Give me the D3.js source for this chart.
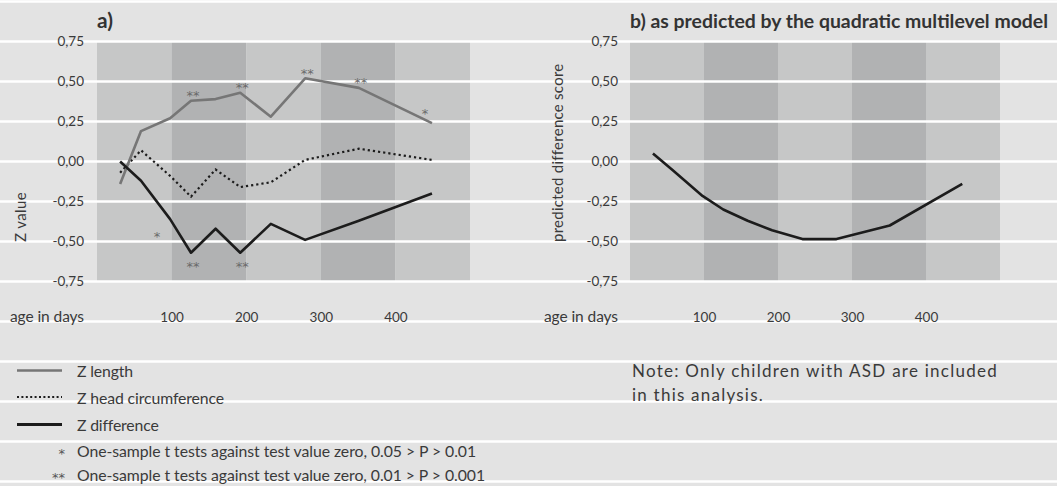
<!DOCTYPE html>
<html>
<head>
<meta charset="utf-8">
<script src="https://cdn.jsdelivr.net/npm/d3@7"></script>
<style>
  body { margin: 0; background: #e3e3e3; }
  svg { display: block; font-family: Lato, "Open Sans", sans-serif; }
</style>
</head>
<body>
<svg id="chart" width="1057" height="486"></svg>
<script>
// ages (days) at which the measurements were taken
const ages = [31, 59, 98, 126, 159, 192, 233, 279, 351, 449];

// panel a) series
const zLength = [-0.14, 0.19, 0.27, 0.38, 0.39, 0.43, 0.28, 0.52, 0.46, 0.24];
const zHead   = [-0.07, 0.07, -0.09, -0.22, -0.05, -0.16, -0.13, 0.01, 0.08, 0.01];
const zDiff   = [0.00, -0.12, -0.36, -0.57, -0.42, -0.57, -0.39, -0.49, -0.37, -0.20];

// significance markers
const lengthSig = ["", "", "", "**", "", "**", "", "**", "**", "*"];
const diffSig   = ["", "", "*", "**", "", "**", "", "", "", ""];

// panel b) predicted difference score
const predicted = [0.05, -0.06, -0.215, -0.30, -0.37, -0.43, -0.485, -0.485, -0.40, -0.14];

const yTicks = [-0.75, -0.5, -0.25, 0, 0.25, 0.5, 0.75];
const xTicks = [100, 200, 300, 400];
const bandEdges = [0, 100, 200, 300, 400, 500];

const legendLabels = ["Z length", "Z head circumference", "Z difference"];
const sigLabels = [
  ["*", "One-sample t tests against test value zero, 0.05 > P > 0.01"],
  ["**", "One-sample t tests against test value zero, 0.01 > P > 0.001"]
];
const noteLines = ["Note: Only children with ASD are included", "in this analysis."];

const W = 1057, H = 486;
const textColor = "#3a3a3a";
const grayLine = "#767676";
const darkLine = "#1c1c1c";
const starFont = "'DejaVu Sans', sans-serif";

const svg = d3.select("#chart");

const comma = d3.formatLocale({decimal: ",", thousands: ".", grouping: [3], currency: ["", ""], minus: "-"}).format(".2f");

const y = d3.scaleLinear().domain([-0.75, 0.75]).range([281.5, 41.5]);
const xL = d3.scaleLinear().domain([0, 500]).range([97, 470]);
const xR = d3.scaleLinear().domain([0, 500]).range([630, 1000]);

// scale a text to the width it has in the picture
function fit(sel, w) {
  const len = sel.node().getComputedTextLength();
  const fs = parseFloat(sel.attr("font-size"));
  sel.attr("font-size", (fs * w / len).toFixed(2));
  return sel;
}

// keep the size, spread the letters to the width instead
function spread(sel, w) {
  const len = sel.node().getComputedTextLength();
  const n = sel.text().length;
  sel.attr("letter-spacing", ((w - len) / n).toFixed(3));
  return sel;
}

svg.append("rect").attr("width", W).attr("height", H).attr("fill", "#e3e3e3");

// vertical bands in both panels
[xL, xR].forEach(x => {
  svg.append("g").selectAll("rect")
    .data(d3.pairs(bandEdges))
    .join("rect")
    .attr("x", d => x(d[0]))
    .attr("width", d => x(d[1]) - x(d[0]))
    .attr("y", y(0.75))
    .attr("height", y(-0.75) - y(0.75))
    .attr("fill", (d, i) => i % 2 ? "#b1b2b3" : "#c6c7c7");
});

// white rules over the whole page, aligned to the y grid
const step = y(0.5) - y(0.75);
svg.append("g").selectAll("line")
  .data(d3.range(-1, 12).map(k => y(0.75) + k * step))
  .join("line")
  .attr("x1", 0).attr("x2", W)
  .attr("y1", d => d).attr("y2", d => d)
  .attr("stroke", "#fff")
  .attr("stroke-width", 2.5);

function axes(x, yAxisX, label, labelW, labelX) {
  const ya = svg.append("g")
    .attr("transform", `translate(${yAxisX},0)`)
    .call(d3.axisLeft(y).tickValues(yTicks).tickSize(0).tickPadding(0).tickFormat(comma));
  ya.select(".domain").remove();
  ya.selectAll("text")
    .attr("dy", 4).attr("fill", textColor)
    .attr("font-size", 13.5).attr("font-family", "Lato, sans-serif");

  const xa = svg.append("g")
    .attr("transform", "translate(0,322)")
    .call(d3.axisBottom(x).tickValues(xTicks).tickSize(0).tickFormat(d3.format("d")));
  xa.select(".domain").remove();
  xa.selectAll("text")
    .attr("y", 0).attr("dy", null).attr("fill", textColor)
    .attr("font-size", 13.5).attr("font-family", "Lato, sans-serif");

  spread(svg.append("text")
    .attr("x", yAxisX).attr("y", 322)
    .attr("text-anchor", "end")
    .attr("font-size", 15.5).attr("fill", textColor)
    .text("age in days"), 74);

  spread(svg.append("text")
    .attr("transform", `translate(${labelX},242) rotate(-90)`)
    .attr("font-size", 15).attr("fill", textColor)
    .text(label), labelW);
}

axes(xL, 84, "Z value", 50, 26);
axes(xR, 618, "predicted difference score", 178, 563);

// titles
fit(svg.append("text").attr("x", 97).attr("y", 28)
  .attr("font-size", 16).attr("font-weight", "bold").attr("fill", "#333")
  .text("a)"), 16);
fit(svg.append("text").attr("x", 630).attr("y", 28)
  .attr("font-size", 16).attr("font-weight", "bold").attr("fill", "#333")
  .text("b) as predicted by the quadratic multilevel model"), 418);

// lines
const lineL = d3.line().x((d, i) => xL(ages[i])).y(d => y(d));
const lineR = d3.line().x((d, i) => xR(ages[i])).y(d => y(d));

svg.append("path").datum(zHead)
  .attr("fill", "none").attr("stroke", darkLine)
  .attr("stroke-width", 2.2).attr("stroke-dasharray", "2.2,3")
  .attr("d", lineL);
svg.append("path").datum(zLength)
  .attr("fill", "none").attr("stroke", grayLine)
  .attr("stroke-width", 2.6).attr("stroke-linejoin", "round")
  .attr("d", lineL);
svg.append("path").datum(zDiff)
  .attr("fill", "none").attr("stroke", darkLine)
  .attr("stroke-width", 2.6).attr("stroke-linejoin", "round")
  .attr("d", lineL);

svg.append("path").datum(predicted)
  .attr("fill", "none").attr("stroke", darkLine)
  .attr("stroke-width", 2.6).attr("stroke-linejoin", "round")
  .attr("d", lineR);

// significance stars
const starFs = 13;
const last = ages.length - 1;
svg.append("g").selectAll("text")
  .data(lengthSig.map((s, i) => ({s, i})).filter(d => d.s))
  .join("text")
  .attr("x", d => xL(ages[d.i]) + (d.i === last ? -7 : 2))
  .attr("y", d => y(zLength[d.i]) - (d.i === last ? 12 : 8) + starFs * 0.56)
  .attr("text-anchor", "middle")
  .attr("font-family", starFont)
  .attr("font-size", starFs).attr("fill", "#6a6a6a")
  .text(d => d.s);
svg.append("g").selectAll("text")
  .data(diffSig.map((s, i) => ({s, i})).filter(d => d.s))
  .join("text")
  .attr("x", d => xL(ages[d.i]) + (d.s === "*" ? -13 : 2))
  .attr("y", d => y(zDiff[d.i]) + (d.s === "*" ? 15 : 11) + starFs * 0.56)
  .attr("text-anchor", "middle")
  .attr("font-family", starFont)
  .attr("font-size", starFs).attr("fill", "#6a6a6a")
  .text(d => d.s);

// legend
const legendY = [370.5, 397, 424.5];
const legendTextY = [376.5, 403.5, 430.5];
const legendStyle = [
  {stroke: grayLine, width: 2.6, dash: null},
  {stroke: darkLine, width: 2, dash: "2,2.4"},
  {stroke: darkLine, width: 3, dash: null}
];
const legendW = [56, 147, 81];
legendLabels.forEach((lab, i) => {
  svg.append("line")
    .attr("x1", 17).attr("x2", 62)
    .attr("y1", legendY[i]).attr("y2", legendY[i])
    .attr("stroke", legendStyle[i].stroke)
    .attr("stroke-width", legendStyle[i].width)
    .attr("stroke-dasharray", legendStyle[i].dash);
  spread(svg.append("text")
    .attr("x", 77).attr("y", legendTextY[i])
    .attr("font-size", 15.8).attr("fill", textColor)
    .text(lab), legendW[i]);
});

const sigY = [456.5, 480.5];
const sigW = [399, 408];
sigLabels.forEach((d, i) => {
  svg.append("text")
    .attr("x", 65).attr("y", sigY[i] + 1)
    .attr("text-anchor", "end")
    .attr("font-family", starFont)
    .attr("font-size", 13).attr("fill", "#555")
    .text(d[0]);
  spread(svg.append("text")
    .attr("x", 77).attr("y", sigY[i])
    .attr("font-size", 15.8).attr("fill", textColor)
    .text(d[1]), sigW[i]);
});

// note
const noteY = [376.5, 400.5];
const noteW = [366, 132];
noteLines.forEach((t, i) => {
  spread(svg.append("text")
    .attr("x", 632).attr("y", noteY[i])
    .attr("font-size", 17).attr("fill", textColor)
    .text(t), noteW[i]);
});
</script>
</body>
</html>
